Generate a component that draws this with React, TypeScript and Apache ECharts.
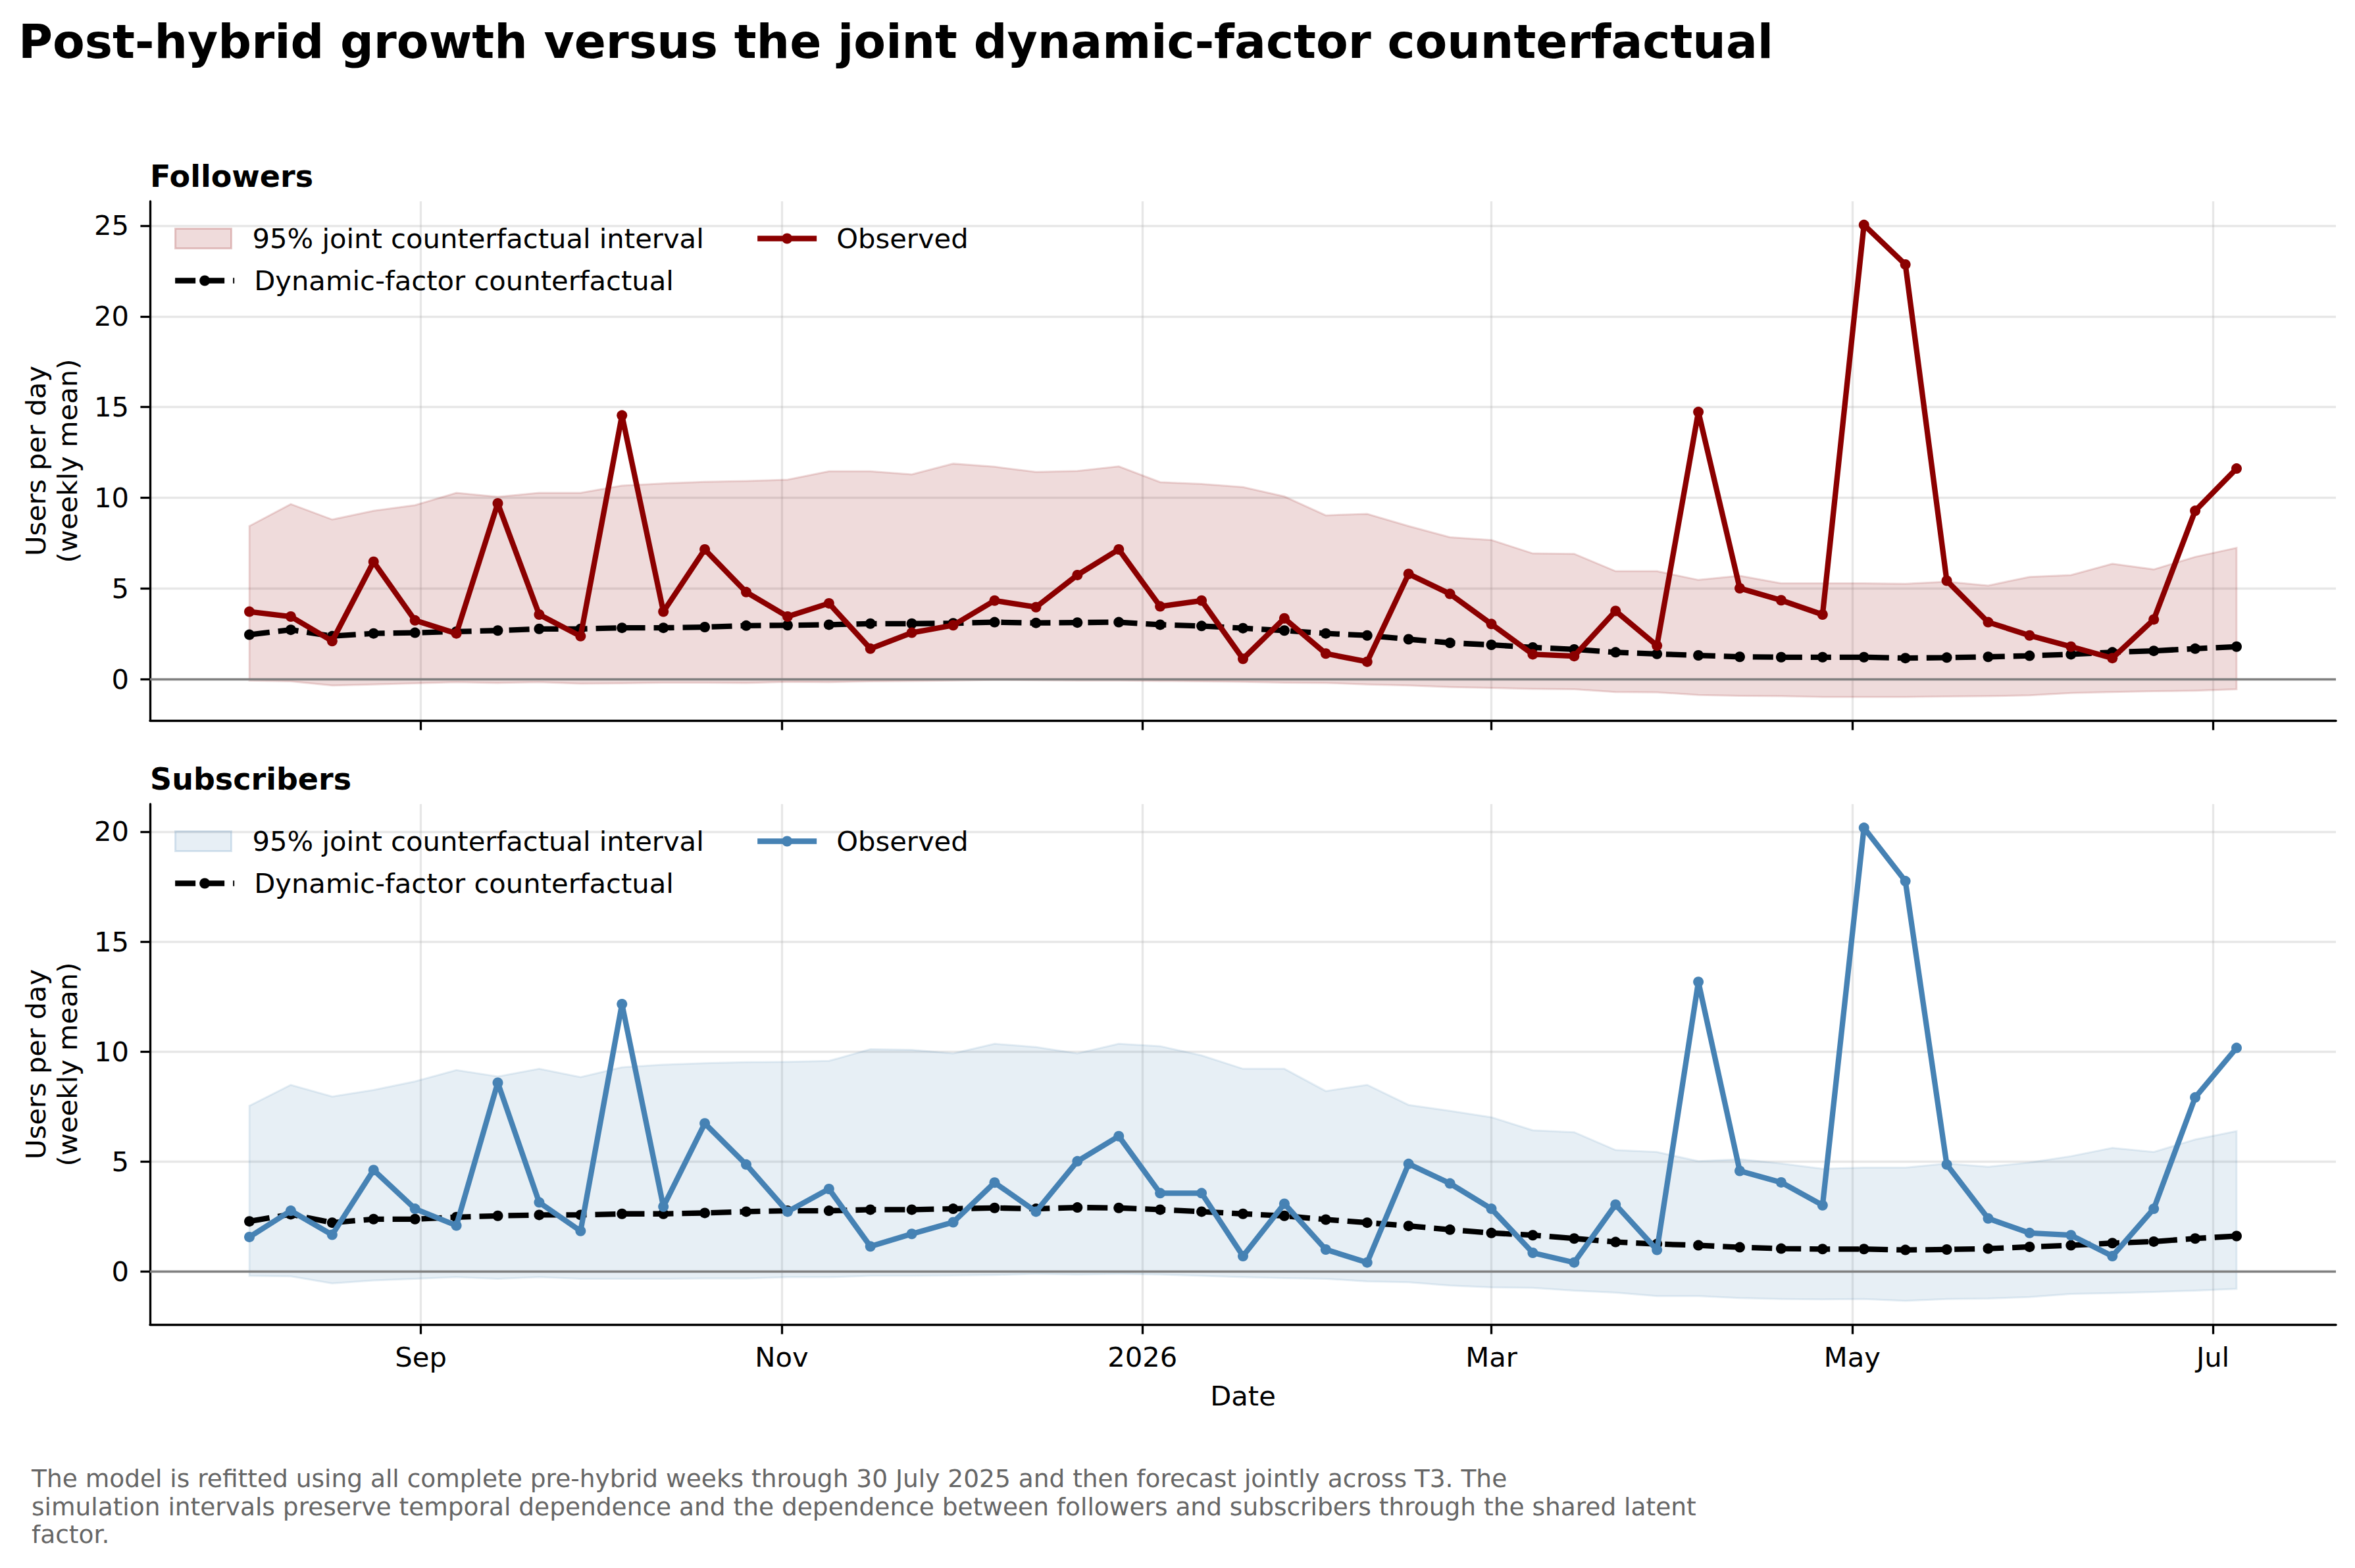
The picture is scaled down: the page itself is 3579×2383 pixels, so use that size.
import React, { useEffect, useRef } from 'react';
import * as echarts from 'echarts';

const FONT = 'DejaVu Sans';

// Weekly observation dates (T3)
const DATES = [
  '2025-08-03', '2025-08-10', '2025-08-17', '2025-08-24', '2025-08-31',
  '2025-09-07', '2025-09-14', '2025-09-21', '2025-09-28',
  '2025-10-05', '2025-10-12', '2025-10-19', '2025-10-26',
  '2025-11-02', '2025-11-09', '2025-11-16', '2025-11-23', '2025-11-30',
  '2025-12-07', '2025-12-14', '2025-12-21', '2025-12-28',
  '2026-01-04', '2026-01-11', '2026-01-18', '2026-01-25',
  '2026-02-01', '2026-02-08', '2026-02-15', '2026-02-22',
  '2026-03-01', '2026-03-08', '2026-03-15', '2026-03-22', '2026-03-29',
  '2026-04-05', '2026-04-12', '2026-04-19', '2026-04-26',
  '2026-05-03', '2026-05-10', '2026-05-17', '2026-05-24', '2026-05-31',
  '2026-06-07', '2026-06-14', '2026-06-21', '2026-06-28',
  '2026-07-05',
];

const TICK_DATES = ['2025-09-01', '2025-11-01', '2026-01-01', '2026-03-01', '2026-05-01', '2026-07-01'];
const TICK_LABELS = ['Sep', 'Nov', '2026', 'Mar', 'May', 'Jul'];
const F_Y_TICKS = [0, 5, 10, 15, 20, 25];
const S_Y_TICKS = [0, 5, 10, 15, 20];

// Followers
const F_OBS = [3.72, 3.45, 2.10, 6.47, 3.24, 2.52, 9.69, 3.56, 2.37, 14.54, 3.72, 7.15, 4.80, 3.45, 4.18, 1.68, 2.56, 2.97, 4.33, 3.97, 5.74, 7.15, 4.01, 4.33, 1.12, 3.35, 1.41, 0.96, 5.80, 4.70, 3.04, 1.37, 1.27, 3.76, 1.85, 14.73, 5.01, 4.35, 3.56, 25.04, 22.86, 5.43, 3.14, 2.41, 1.79, 1.16, 3.29, 9.28, 11.61];
const F_CF = [2.45, 2.72, 2.37, 2.52, 2.56, 2.62, 2.68, 2.77, 2.77, 2.83, 2.83, 2.87, 2.95, 2.97, 3.00, 3.06, 3.06, 3.08, 3.14, 3.10, 3.12, 3.14, 3.00, 2.93, 2.81, 2.68, 2.52, 2.41, 2.20, 2.00, 1.89, 1.75, 1.64, 1.48, 1.39, 1.31, 1.23, 1.21, 1.21, 1.21, 1.16, 1.19, 1.23, 1.29, 1.37, 1.48, 1.56, 1.68, 1.79];
const F_UP = [8.44, 9.65, 8.80, 9.28, 9.59, 10.27, 10.05, 10.27, 10.27, 10.67, 10.79, 10.88, 10.92, 11.00, 11.46, 11.46, 11.29, 11.88, 11.71, 11.42, 11.48, 11.73, 10.86, 10.76, 10.59, 10.07, 9.03, 9.11, 8.44, 7.82, 7.67, 6.93, 6.91, 5.95, 5.95, 5.47, 5.70, 5.28, 5.28, 5.28, 5.26, 5.37, 5.16, 5.64, 5.74, 6.36, 6.05, 6.74, 7.24];
const F_LO = [-0.08, -0.12, -0.35, -0.29, -0.23, -0.17, -0.21, -0.17, -0.25, -0.23, -0.19, -0.19, -0.21, -0.15, -0.17, -0.12, -0.10, -0.08, -0.04, -0.06, -0.08, -0.08, -0.10, -0.12, -0.15, -0.19, -0.21, -0.29, -0.35, -0.44, -0.48, -0.54, -0.56, -0.71, -0.73, -0.87, -0.92, -0.94, -0.98, -0.98, -0.98, -0.96, -0.94, -0.89, -0.77, -0.71, -0.67, -0.64, -0.56];

// Subscribers
const S_OBS = [1.58, 2.77, 1.68, 4.62, 2.86, 2.10, 8.59, 3.15, 1.85, 12.16, 2.96, 6.74, 4.87, 2.73, 3.76, 1.15, 1.72, 2.25, 4.05, 2.73, 5.02, 6.16, 3.57, 3.57, 0.71, 3.09, 1.01, 0.42, 4.90, 4.01, 2.86, 0.86, 0.42, 3.05, 0.99, 13.17, 4.58, 4.06, 3.02, 20.17, 17.75, 4.87, 2.42, 1.76, 1.66, 0.71, 2.86, 7.92, 10.17];
const S_CF = [2.29, 2.61, 2.23, 2.39, 2.39, 2.48, 2.54, 2.58, 2.58, 2.63, 2.63, 2.67, 2.73, 2.77, 2.77, 2.82, 2.82, 2.86, 2.90, 2.86, 2.92, 2.90, 2.82, 2.73, 2.63, 2.54, 2.37, 2.23, 2.08, 1.91, 1.76, 1.66, 1.51, 1.35, 1.26, 1.20, 1.11, 1.05, 1.03, 1.03, 0.99, 1.01, 1.05, 1.13, 1.20, 1.30, 1.37, 1.51, 1.62];
const S_UP = [7.54, 8.49, 7.96, 8.26, 8.65, 9.16, 8.87, 9.22, 8.84, 9.29, 9.41, 9.48, 9.52, 9.54, 9.58, 10.11, 10.08, 9.92, 10.36, 10.21, 9.92, 10.36, 10.25, 9.83, 9.22, 9.22, 8.21, 8.49, 7.58, 7.31, 7.02, 6.43, 6.34, 5.53, 5.44, 5.02, 5.11, 4.92, 4.68, 4.73, 4.73, 4.92, 4.77, 4.96, 5.25, 5.63, 5.44, 6.01, 6.39];
const S_LO = [-0.19, -0.21, -0.53, -0.40, -0.32, -0.25, -0.32, -0.25, -0.32, -0.32, -0.32, -0.31, -0.31, -0.25, -0.25, -0.19, -0.19, -0.17, -0.15, -0.10, -0.13, -0.10, -0.13, -0.19, -0.25, -0.29, -0.32, -0.44, -0.48, -0.63, -0.71, -0.73, -0.86, -0.95, -1.11, -1.11, -1.20, -1.24, -1.26, -1.24, -1.32, -1.24, -1.22, -1.15, -1.01, -0.97, -0.92, -0.86, -0.78];

const TITLE = 'Post-hybrid growth versus the joint dynamic-factor counterfactual';
const PANEL_TITLES = ['Followers', 'Subscribers'];
const Y_NAME = 'Users per day\n(weekly mean)';
const X_NAME = 'Date';
const FOOTNOTE =
  'The model is refitted using all complete pre-hybrid weeks through 30 July 2025 and then forecast jointly across T3. The\n' +
  'simulation intervals preserve temporal dependence and the dependence between followers and subscribers through the shared latent\n' +
  'factor.';

const LEGEND_TEXT: Record<string, string> = {
  fBand: '95% joint counterfactual interval',
  fObs: 'Observed',
  fCf: 'Dynamic-factor counterfactual',
  sBand: '95% joint counterfactual interval',
  sObs: 'Observed',
  sCf: 'Dynamic-factor counterfactual',
};

const DAY = 86400000;
const DATES_MS = DATES.map((d) => Date.parse(d));
const TICK_MS = TICK_DATES.map((d) => Date.parse(d));
const X_MIN = DATES_MS[0] - 16.8 * DAY;
const X_MAX = DATES_MS[DATES_MS.length - 1] + 16.8 * DAY;

const W = 3579;
const H = 2383;
const GRID_LEFT = 228;
const GRID_RIGHT = 29;
const GRIDS = [
  { top: 306, height: 789 },
  { top: 1222, height: 791 },
];
const Y_RANGES = [
  [-2.28, 26.34],
  [-2.4, 21.25],
];

const TICK_FS = 41.7;
const LW_AXIS = 3.3;
const LW_DATA = 8.3;
const MARKER = 16;
const GRID_COLOR = 'rgba(176,176,176,0.3)';

function xLabel(v: number) {
  let best = 0;
  let bd = Infinity;
  TICK_MS.forEach((t, i) => {
    const d = Math.abs(t - v);
    if (d < bd) {
      bd = d;
      best = i;
    }
  });
  return TICK_LABELS[best];
}

function pairs(arr: number[]) {
  return DATES_MS.map((d, i) => [d, arr[i]]);
}

function panelSeries(
  p: string,
  gi: number,
  obs: number[],
  cf: number[],
  lo: number[],
  up: number[],
  color: string,
  fill: string,
  edge: string
) {
  return [
    {
      type: 'custom',
      name: p + 'Band',
      xAxisIndex: gi,
      yAxisIndex: gi,
      data: DATES_MS.map((d, i) => [d, lo[i], up[i]]),
      encode: { x: 0, y: [1, 2] },
      silent: true,
      z: 1,
      itemStyle: { color: fill },
      renderItem: (params: any, api: any) => {
        if (params.dataIndex !== 0) return { type: 'group', children: [] };
        const upper = DATES_MS.map((d, i) => api.coord([d, up[i]]));
        const lower = DATES_MS.map((d, i) => api.coord([d, lo[i]])).reverse();
        return {
          type: 'polygon',
          shape: { points: upper.concat(lower) },
          style: { fill, stroke: edge, lineWidth: 3 },
          silent: true,
        };
      },
    },
    {
      type: 'line',
      name: p + 'Cf',
      xAxisIndex: gi,
      yAxisIndex: gi,
      data: pairs(cf),
      symbol: 'circle',
      symbolSize: MARKER,
      showAllSymbol: true,
      silent: true,
      itemStyle: { color: '#000000', borderWidth: 0 },
      lineStyle: { color: '#000000', width: LW_DATA, type: [31, 13] },
      emphasis: { disabled: true },
      z: 3,
      markLine: {
        silent: true,
        symbol: ['none', 'none'],
        label: { show: false },
        lineStyle: { color: '#808080', width: 3.3, type: 'solid' },
        emphasis: { disabled: true },
        data: [{ yAxis: 0 }],
      },
    },
    {
      type: 'line',
      name: p + 'Obs',
      xAxisIndex: gi,
      yAxisIndex: gi,
      data: pairs(obs),
      symbol: 'circle',
      symbolSize: MARKER,
      showAllSymbol: true,
      silent: true,
      itemStyle: { color, borderWidth: 0 },
      lineStyle: { color, width: LW_DATA },
      emphasis: { disabled: true },
      z: 4,
    },
  ];
}

function legends(p: string, top: number, fill: string, edge: string, color: string) {
  const base = {
    orient: 'horizontal',
    padding: 0,
    selectedMode: false,
    itemGap: 0,
    formatter: (n: string) => LEGEND_TEXT[n],
  };
  const ts = (pad: number) => ({
    fontSize: TICK_FS,
    fontFamily: FONT,
    color: '#000',
    lineHeight: 50,
    padding: [0, 0, 0, pad],
  });
  const r1 = top + 56.5;
  const r2 = top + 120.5;
  return [
    {
      ...base,
      left: 265,
      top: r1 - 25,
      itemWidth: 85,
      itemHeight: 30,
      textStyle: ts(27),
      data: [
        {
          name: p + 'Band',
          icon: 'rect',
          itemStyle: { color: fill, borderColor: edge, borderWidth: 3 },
        },
      ],
    },
    {
      ...base,
      left: 1147,
      top: r1 - 25,
      itemWidth: 90,
      itemHeight: 20,
      textStyle: ts(25),
      data: [
        {
          name: p + 'Obs',
          itemStyle: { color, borderWidth: 0 },
          lineStyle: { color, width: LW_DATA, type: 'solid' },
        },
      ],
    },
    {
      ...base,
      left: 262,
      top: r2 - 25,
      itemWidth: 90,
      itemHeight: 20,
      textStyle: ts(25),
      data: [
        {
          name: p + 'Cf',
          itemStyle: { color: '#000', borderWidth: 0 },
          lineStyle: { color: '#000', width: LW_DATA, type: [31, 13] },
        },
      ],
    },
  ];
}

function buildOption() {
  const xAxes = [0, 1].map((gi) => ({
    type: 'value',
    gridIndex: gi,
    min: X_MIN,
    max: X_MAX,
    scale: true,
    axisLine: { show: true, onZero: false, lineStyle: { color: '#000', width: LW_AXIS } },
    axisTick: {
      show: true,
      inside: false,
      length: 14.6,
      customValues: TICK_MS,
      lineStyle: { color: '#000', width: LW_AXIS },
    },
    axisLabel: {
      show: gi === 1,
      customValues: TICK_MS,
      formatter: (v: number) => xLabel(v),
      fontSize: TICK_FS,
      fontFamily: FONT,
      color: '#000',
      lineHeight: 50,
      margin: 24,
      hideOverlap: false,
    },
    splitLine: { show: true, lineStyle: { color: GRID_COLOR, width: LW_AXIS } },
    minorTick: { show: false },
    minorSplitLine: { show: false },
    name: gi === 1 ? X_NAME : '',
    nameLocation: 'middle',
    nameGap: 83,
    nameTextStyle: { fontSize: TICK_FS, fontFamily: FONT, color: '#000', lineHeight: 50 },
  }));

  const yTicks = [F_Y_TICKS, S_Y_TICKS];
  const yAxes = [0, 1].map((gi) => ({
    type: 'value',
    gridIndex: gi,
    min: Y_RANGES[gi][0],
    max: Y_RANGES[gi][1],
    axisLine: { show: true, onZero: false, lineStyle: { color: '#000', width: LW_AXIS } },
    axisTick: {
      show: true,
      inside: false,
      length: 14.6,
      customValues: yTicks[gi],
      lineStyle: { color: '#000', width: LW_AXIS },
    },
    axisLabel: {
      customValues: yTicks[gi],
      fontSize: TICK_FS,
      fontFamily: FONT,
      color: '#000',
      margin: 32,
      hideOverlap: false,
    },
    splitLine: { show: true, lineStyle: { color: GRID_COLOR, width: LW_AXIS } },
    name: Y_NAME,
    nameLocation: 'middle',
    nameGap: 102,
    nameTextStyle: { fontSize: TICK_FS, fontFamily: FONT, color: '#000', lineHeight: 48 },
  }));

  const fFill = 'rgba(139,0,0,0.14)';
  const fEdge = 'rgba(139,0,0,0.14)';
  const sFill = 'rgba(70,130,180,0.13)';
  const sEdge = 'rgba(70,130,180,0.13)';

  return {
    animation: false,
    backgroundColor: '#ffffff',
    textStyle: { fontFamily: FONT },
    title: [
      {
        text: TITLE,
        left: 28,
        top: 21,
        padding: 0,
        textStyle: { fontSize: 71, fontWeight: 'bold', fontFamily: FONT, color: '#000', lineHeight: 85 },
      },
      {
        text: PANEL_TITLES[0],
        left: 228,
        top: 240,
        padding: 0,
        textStyle: { fontSize: 46, fontWeight: 'bold', fontFamily: FONT, color: '#000', lineHeight: 55 },
      },
      {
        text: PANEL_TITLES[1],
        left: 228,
        top: 1156,
        padding: 0,
        textStyle: { fontSize: 46, fontWeight: 'bold', fontFamily: FONT, color: '#000', lineHeight: 55 },
      },
      {
        text: FOOTNOTE,
        left: 48,
        top: 2226,
        padding: 0,
        textStyle: { fontSize: 37.5, fontWeight: 'normal', fontFamily: FONT, color: '#666666', lineHeight: 42.5 },
      },
    ],
    legend: [
      ...legends('f', GRIDS[0].top, fFill, 'rgba(139,0,0,0.2)', '#8B0000'),
      ...legends('s', GRIDS[1].top, sFill, 'rgba(70,130,180,0.2)', '#4682B4'),
    ],
    grid: GRIDS.map((g) => ({
      left: GRID_LEFT,
      right: GRID_RIGHT,
      top: g.top,
      height: g.height,
      containLabel: false,
      outerBoundsMode: 'none',
      show: false,
    })),
    xAxis: xAxes,
    yAxis: yAxes,
    series: [
      ...panelSeries('f', 0, F_OBS, F_CF, F_LO, F_UP, '#8B0000', fFill, fEdge),
      ...panelSeries('s', 1, S_OBS, S_CF, S_LO, S_UP, '#4682B4', sFill, sEdge),
    ],
  };
}

export default function App() {
  const ref = useRef<HTMLDivElement>(null);
  useEffect(() => {
    if (!ref.current) return;
    const chart = echarts.init(ref.current, undefined, { renderer: 'svg', width: W, height: H });
    chart.setOption(buildOption() as any);
    return () => chart.dispose();
  }, []);
  return (
    <div
      ref={ref}
      style={{ position: 'fixed', left: 0, top: 0, width: W, height: H, background: '#fff' }}
    />
  );
}
